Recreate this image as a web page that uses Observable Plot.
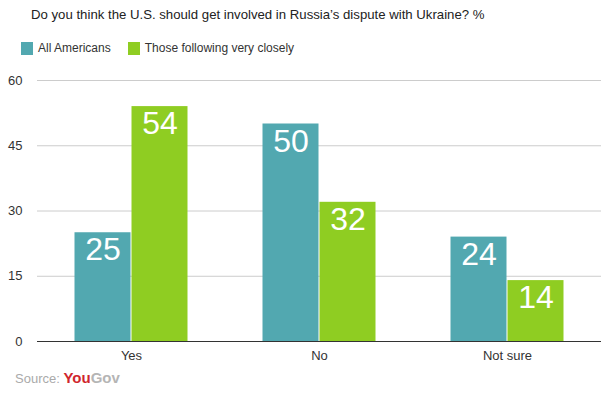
<!DOCTYPE html>
<html>
<head>
<meta charset="utf-8">
<script src="https://cdn.jsdelivr.net/npm/d3@7"></script>
<script src="https://cdn.jsdelivr.net/npm/@observablehq/plot@0.6"></script>
<style>
  body { margin: 0; background: #fff; font-family: "Liberation Sans", Arial, sans-serif; }
  #wrap { position: relative; width: 612px; height: 396px; overflow: hidden; }
  #title { position: absolute; left: 31px; top: 7px; font-size: 13.2px; color: #222; white-space: nowrap; }
  #legend { position: absolute; left: 21px; top: 41px; font-size: 12px; color: #333; display: flex; align-items: center; }
  #legend .sw { display: inline-block; width: 12px; height: 13px; margin-right: 5px; }
  #legend .item { display: flex; align-items: center; margin-right: 17px; }
  #source { position: absolute; left: 15px; top: 369px; font-size: 13px; color: #aaa; }
  #source b { font-weight: bold; font-size: 15px; }
  #chart { position: absolute; left: 0; top: 0; }
</style>
</head>
<body>
<div id="wrap">
  <div id="chart"></div>
  <div id="title">Do you think the U.S. should get involved in Russia’s dispute with Ukraine? %</div>
  <div id="legend"></div>
  <div id="source">Source: <b style="color:#d0262d">You</b><b style="color:#b5b5b5">Gov</b></div>
</div>
<script>
const categories = ["Yes", "No", "Not sure"];
const seriesNames = ["All Americans", "Those following very closely"];
const allAmericans = [25, 50, 24];
const followingClosely = [54, 32, 14];
const yTicks = [0, 15, 30, 45, 60];
const colors = ["#52a8b0", "#8fcd22"];

const data = [];
categories.forEach((c, i) => {
  data.push({category: c, series: seriesNames[0], value: allAmericans[i]});
  data.push({category: c, series: seriesNames[1], value: followingClosely[i]});
});

const legend = document.getElementById("legend");
seriesNames.forEach((s, i) => {
  const item = document.createElement("span");
  item.className = "item";
  item.innerHTML = `<span class="sw" style="background:${colors[i]}"></span>${s}`;
  legend.appendChild(item);
});

const chart = Plot.plot({
  width: 612,
  height: 396,
  marginTop: 80,
  marginBottom: 55,
  marginLeft: 36,
  marginRight: 10,
  style: {fontFamily: "Liberation Sans, Arial, sans-serif", fontSize: "13px", color: "#333", background: "#fff"},
  fx: {domain: categories, padding: 0, label: null, axis: "bottom", tickSize: 0, tickPadding: 9},
  x: {domain: seriesNames, axis: null, paddingInner: 0, paddingOuter: 0.635},
  y: {domain: [0, 60], ticks: yTicks, tickSize: 0, tickPadding: 15, label: null},
  color: {domain: seriesNames, range: colors},
  marks: [
    Plot.ruleY(yTicks.filter(d => d > 0), {stroke: "#cccccc", strokeWidth: 1}),
    Plot.barY(data, {fx: "category", x: "series", y: "value", fill: "series", insetLeft: 0.5, insetRight: 0.5}),
    Plot.text(data, {fx: "category", x: "series", y: "value", text: d => String(d.value), fill: "white", fontSize: 32, lineAnchor: "top", dy: 5}),
    Plot.ruleY([0], {stroke: "#333", strokeWidth: 1})
  ]
});
document.getElementById("chart").appendChild(chart);
</script>
</body>
</html>
